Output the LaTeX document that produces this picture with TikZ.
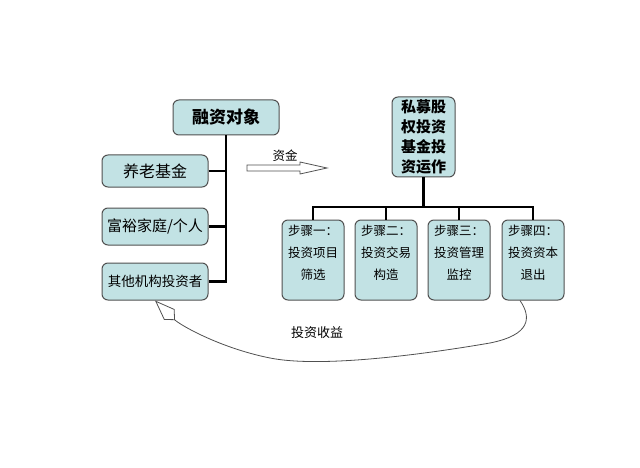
\documentclass[tikz,border=0pt]{standalone}
\usepackage{fontspec}
\setmainfont{Noto Sans CJK SC}
\usetikzlibrary{arrows.meta,calc}
\definecolor{boxfill}{RGB}{194,226,228}
\definecolor{boxline}{RGB}{80,80,80}

\begin{document}
\begin{tikzpicture}[x=1pt,y=-1pt,
    box/.style={draw=boxline,fill=boxfill,rounded corners=6pt,line width=1pt,inner sep=0pt,
      minimum width=106pt},
    stepbox/.style={box,minimum width=62pt,minimum height=80pt,align=center,
      font=\fontsize{12.5}{22}\selectfont},
    tie/.style={line width=2.5pt}]
    \useasboundingbox (0,0) rectangle (640,468);
    % left side
    \node[box,minimum height=35pt,font=\fontsize{17}{19}\selectfont\bfseries] (target) at (226,117.5) {融资对象};
    \node[box,minimum height=32pt,font=\fontsize{16}{18}\selectfont] (pension) at (155,171) {养老基金};
    \node[box,minimum height=37pt,font=\fontsize{15}{17}\selectfont] (family) at (155,226.5) {富裕家庭/个人};
    \node[box,minimum height=37pt,font=\fontsize{13.5}{16}\selectfont] (other) at (155,281.5) {其他机构投资者};
    \draw[tie] (target) -- (target |- other) -- (other);
    \draw[tie] (pension) -- (pension -| target);
    \draw[tie] (family) -- (family -| target);
    % money arrow
    \draw[boxline,line width=0.8pt,fill=white] (247,165) -- (300,165) -- (300,162) -- (327,168)
      -- (300,174) -- (300,171) -- (247,171) -- cycle;
    \node[font=\fontsize{12.5}{14}\selectfont] (money) at (285,156) {资金};
    % right side
    \node[box,minimum width=63pt,minimum height=80pt,align=center,
      font=\fontsize{15}{20}\selectfont\bfseries] (fund) at (423.5,137) {私募股\\权投资\\基金投\\资运作};
    \node[stepbox] (s1) at (313,260) {步骤一：\\投资项目\\筛选\\[-6pt]\mbox{}};
    \node[stepbox] (s2) at (386,260) {步骤二：\\投资交易\\构造\\[-6pt]\mbox{}};
    \node[stepbox] (s3) at (459,260) {步骤三：\\投资管理\\监控\\[-6pt]\mbox{}};
    \node[stepbox] (s4) at (533,260) {步骤四：\\投资资本\\退出\\[-6pt]\mbox{}};
    \coordinate (bus) at (423.5,207);
    \draw[tie] (fund) -- (bus);
    \draw[tie] (s1) -- (s1 |- bus) -- (s4 |- bus) -- (s4);
    \draw[tie] (s2) -- (s2 |- bus);
    \draw[tie] (s3) -- (s3 |- bus);
    % return flow
    \draw[boxline,line width=0.8pt,-{Kite[open,length=28pt,width=15pt,inset=8pt]}]
      ($(s4.south)+(-13,0)$) .. controls (532,318) and (530,335) .. (490,343)
      .. controls (420,355) and (320,368) .. (270,358)
      .. controls (220,348) and (180,325) .. (other.south);
    \node[font=\fontsize{13}{15}\selectfont] (gain) at (317,333) {投资收益};
\end{tikzpicture}
\end{document}
